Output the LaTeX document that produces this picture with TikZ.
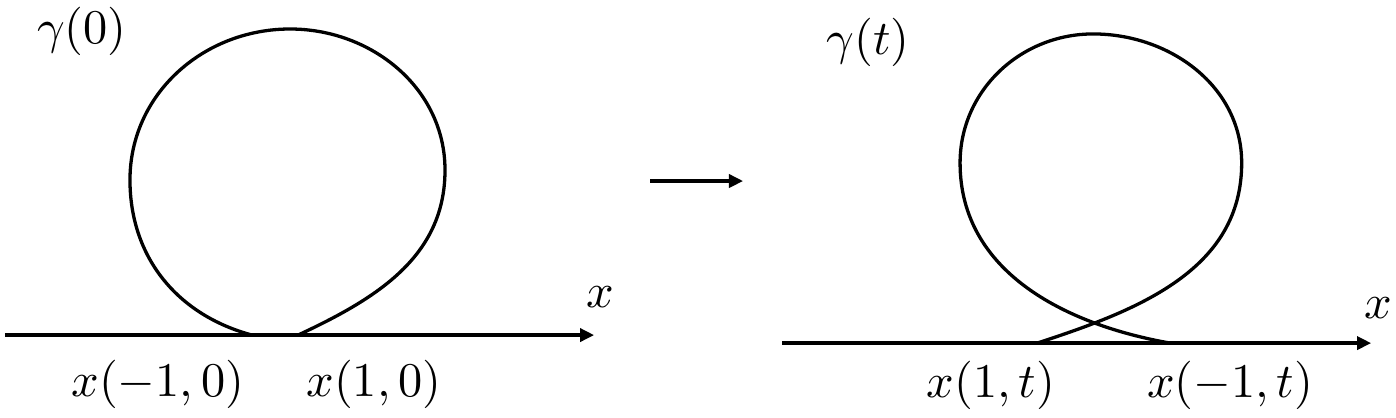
\documentclass[tikz,border=0pt]{standalone}
\usepackage{amsmath}
\usepackage{amssymb}
\usetikzlibrary{arrows.meta}

\tikzset{
  axisarrow/.style={-{Triangle[length=3pt,width=2.8pt]},line width=0.7pt},
  curveline/.style={line width=0.7pt},
  every node/.style={scale=1.03}
}

\begin{document}
\begin{tikzpicture}
\useasboundingbox (0,0) rectangle (10.44,3.119);
% left picture
\coordinate (la) at (0.037,0.613);
\coordinate (lb) at (4.443,0.613);
\draw[axisarrow] (la) -- (lb);
\node (lx) at (4.488,0.894) {$x$};
\node (lgamma) at (0.613,2.887) {$\gamma(0)$};
\draw[curveline] (2.229,0.613) to[out=25,in=-90] (3.328,1.847)
  to[out=90,in=0] (2.169,2.902) to[out=180,in=90] (0.972,1.773)
  to[out=-90,in=165] (1.885,0.613);
\node (lm) at (1.18,0.247) {$x(-1,0)$};
\node (lp) at (2.797,0.247) {$x(1,0)$};
% arrow between
\coordinate (ma) at (4.862,1.765);
\coordinate (mb) at (5.557,1.765);
\draw[axisarrow] (ma) -- (mb);
% right picture
\coordinate (ra) at (5.849,0.553);
\coordinate (rb) at (10.254,0.553);
\draw[axisarrow] (ra) -- (rb);
\node (rx) at (10.307,0.815) {$x$};
\node (rgamma) at (6.492,2.801) {$\gamma(t)$};
\draw[curveline] (7.756,0.553) to[out=18,in=-90] (9.286,1.900)
  to[out=90,in=0] (8.175,2.865) to[out=180,in=90] (7.180,1.900)
  to[out=-90,in=170] (8.751,0.553);
\node (rp) at (7.412,0.239) {$x(1,t)$};
\node (rm) at (9.2,0.239) {$x(-1,t)$};
\end{tikzpicture}
\end{document}
